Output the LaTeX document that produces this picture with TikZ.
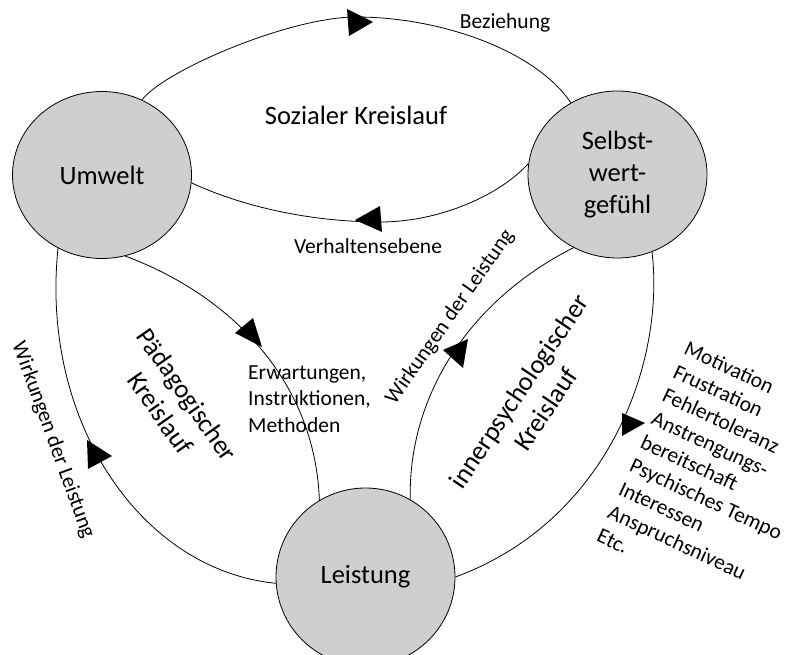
\documentclass[tikz,border=0pt]{standalone}
\usepackage{fontspec}
\setmainfont{Carlito}
\usetikzlibrary{shapes.geometric}
\definecolor{cgray}{RGB}{208,206,206}
\newcommand\bigtxt{\fontsize{26.5}{32.3}\selectfont}
\newcommand\smalltxt{\fontsize{21.5}{26.3}\selectfont}
\newcommand\listtxt{\fontsize{21.5}{25.8}\selectfont}
\begin{document}
\begin{tikzpicture}[x=1pt,y=-1pt,
  bubble/.style={ellipse, draw, fill=cgray, line width=0.8pt, minimum width=179pt, minimum height=167pt, inner sep=0pt, font=\bigtxt, align=center},
  conn/.style={line width=0.8pt},
  tri/.style={fill=black},
  big/.style={font=\bigtxt, inner sep=0pt, align=center},
  small/.style={font=\smalltxt, inner sep=0pt, align=left}]
\useasboundingbox (0,0) rectangle (792,655);
\clip (0,0) rectangle (792,655);
% nodes
\node[bubble] (U) at (102,175) {Umwelt};
\node[bubble] (S) at (617.5,174.5) {Selbst-\\wert-\\gefühl};
\node[bubble, minimum height=178pt] (L) at (365.5,577) {Leistung};
% connectors
\coordinate (topA) at (356,17);
\coordinate (botB) at (380,222);
\draw[conn] (U.62) .. controls (165,70) and (290,17) .. (topA)
   .. controls (440,17) and (535,50) .. (S.123);
\draw[conn] (U.-5) .. controls (250,210) and (320,222) .. (botB)
   .. controls (440,222) and (500,195) .. (S.173);
\draw[conn] (U.239) .. controls (40,420) and (140,570) .. (L.184);
\draw[conn] (U.-74) .. controls (230,295) and (315,380) .. (L.121);
\draw[conn] (L.60) .. controls (408,395) and (470,300) .. (S.239);
\draw[conn] (S.-66) .. controls (665,360) and (610,520) .. (L.0);
% arrow heads
\fill[tri] (347,9) -- (373,22) -- (349,36) -- cycle;
\fill[tri] (355,220) -- (380,206) -- (382,232) -- cycle;
\fill[tri] (87,440) -- (112,456) -- (88,469) -- cycle;
\fill[tri] (235,333) -- (253,318) -- (262,347) -- cycle;
\fill[tri] (443,350) -- (468,339) -- (463,368) -- cycle;
\fill[tri] (622,413) -- (645,423) -- (622,436) -- cycle;
% labels
\node[big] (soz) at (356,115) {Sozialer Kreislauf};
\node[small] (bez) at (505,23) {Beziehung};
\node[small] (verh) at (368,246) {Verhaltensebene};
\node[small, anchor=west] (erw) at (248,399) {Erwartungen,\\Instruktionen,\\Methoden};
\node[big, rotate=-55] (paed) at (174,404) {Pädagogischer\\Kreislauf};
\node[small, rotate=-70] (wl1) at (53,440) {Wirkungen der Leistung};
\node[small, rotate=55] (wl2) at (450,317) {Wirkungen der Leistung};
\node[big, rotate=56] (inner) at (532,400) {innerpsychologischer\\Kreislauf};
\node[small, font=\listtxt, rotate=-25, anchor=north west] (list) at (689,340) {Motivation\\Frustration\\Fehlertoleranz\\Anstrengungs-\\bereitschaft\\Psychisches Tempo\\Interessen\\Anspruchsniveau\\Etc.};
\end{tikzpicture}
\end{document}
